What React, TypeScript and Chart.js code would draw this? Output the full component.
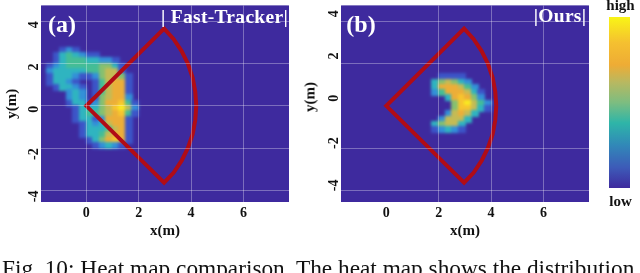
import React, { useEffect, useRef } from "react";
import { Chart, registerables } from "chart.js";

Chart.register(...registerables);

const FONT = "'Liberation Serif', serif";
const xTicks = [0, 2, 4, 6];
const yTicks = [-4, -2, 0, 2, 4];
const xRange = [-1.73, 7.74];
const yRange = [-4.54, 4.74];
const cellSize = 0.25;

const wedgeX = [4.2, 4.16, 4.06, 3.88, 3.64, 3.33, 2.97, 0, 2.97, 3.33, 3.64, 3.88, 4.06, 4.16, 4.2];
const wedgeY = [0, 0.68, 1.34, 1.99, 2.59, 3.16, 3.65, 0, -3.63, -3.16, -2.59, -1.99, -1.34, -0.68, 0];

// 0 = background ... 9 = hottest
const heatPalette = ["#3e2a9e", "#3c55c8", "#3390d8", "#2fb4c0", "#45bd95", "#86c070", "#c4bb55", "#ecae38", "#f7c52e", "#f9ea20"];

const heatOriginA = [-1.5, 2.75];
const heatRowsA = [
  "00121000000000",
  "01343211000000",
  "01344433221000",
  "12344444553100",
  "23333344566100",
  "13332112566510",
  "13321001467710",
  "01332101467710",
  "00023201467710",
  "00023201567720",
  "00013312577841",
  "00001333568962",
  "00001344567841",
  "00001331277710",
  "00000132367710",
  "00000133346710",
  "00000133467710",
  "00000013578710",
  "00000001232100",
];

const heatOriginB = [1.5, 1.5];
const heatRowsB = [
  "0011110000",
  "0356532000",
  "0377764200",
  "0247776310",
  "0003787520",
  "0000589642",
  "0000588631",
  "0002676300",
  "0026663000",
  "0356630000",
  "0123210000",
];

const colorbarStops = [0, 0.12, 0.25, 0.38, 0.5, 0.62, 0.72, 0.85, 1];
const colorbarColors = ["#3e2a9e", "#3d5bb8", "#3188b8", "#2eb5a8", "#7dbd80", "#b9b860", "#eeac35", "#f5c030", "#f9f516"];

const cellCache: Record<string, HTMLCanvasElement> = {};
function cellCanvas(v: number) {
  const color = heatPalette[v];
  if (!cellCache[color]) {
    const c = document.createElement("canvas");
    c.width = 8;
    c.height = 7;
    const g = c.getContext("2d")!;
    g.fillStyle = color;
    g.fillRect(0, 0, 8, 7);
    cellCache[color] = c;
  }
  return cellCache[color];
}

function heatPoints(rows: string[], origin: number[]) {
  const pts: { x: number; y: number; v: number }[] = [];
  rows.forEach((row, r) => {
    row.split("").forEach((ch, c) => {
      const v = Number(ch);
      if (v > 0) pts.push({ x: origin[0] + (c + 0.5) * cellSize, y: origin[1] - (r + 0.5) * cellSize, v });
    });
  });
  return pts;
}

const plotPlugin = {
  id: "plotLayers",
  beforeDatasetsDraw(chart: any) {
    const { ctx, chartArea: a } = chart;
    ctx.save();
    ctx.fillStyle = heatPalette[0];
    ctx.fillRect(a.left, a.top, a.right - a.left, a.bottom - a.top);
    ctx.restore();
  },
  afterDatasetDraw(chart: any, args: any) {
    if (args.index !== 1) return;
    const { ctx, chartArea: a } = chart;
    ctx.save();
    ctx.beginPath();
    ctx.rect(a.left, a.top, a.right - a.left, a.bottom - a.top);
    ctx.clip();
    ctx.filter = "blur(1.7px)";
    ctx.drawImage(ctx.canvas, 0, 0);
    ctx.restore();
  },
};

function heatConfig(rows: string[], origin: number[], opts: { labelOffset: number; hideZeroGrid: boolean; yTitle: boolean }) {
  const gridColor = (ctx: any) =>
    opts.hideZeroGrid && ctx.tick && ctx.tick.value === 0 ? "rgba(255,255,255,0)" : "rgba(255,255,255,0.32)";
  const tickFont = { family: FONT, size: 14, weight: "bold" as const };
  return {
    type: "scatter" as const,
    plugins: [plotPlugin],
    data: {
      datasets: [
        {
          label: "Sector",
          data: wedgeX.map((x, i) => ({ x, y: wedgeY[i] })),
          showLine: true,
          pointRadius: 0,
          borderColor: "#b00c16",
          borderWidth: 4,
          borderJoinStyle: "miter" as const,
          order: 0,
        },
        {
          label: "Heat",
          data: heatPoints(rows, origin),
          pointRadius: 4,
          pointStyle: (ctx: any) => cellCanvas(ctx.raw ? ctx.raw.v : 1),
          order: 1,
        },
      ],
    },
    options: {
      animation: false as const,
      responsive: false,
      events: [],
      layout: { padding: { top: 5.5, right: 31, bottom: 33, left: 0 } },
      plugins: { legend: { display: false }, tooltip: { enabled: false } },
      scales: {
        x: {
          type: "linear" as const,
          min: xRange[0],
          max: xRange[1],
          afterBuildTicks: (s: any) => { s.ticks = xTicks.map((value) => ({ value })); },
          afterFit: (s: any) => { s.height = 38; s.paddingLeft = 0; s.paddingRight = 0; },
          border: { display: false },
          grid: { color: gridColor, z: 1, drawTicks: false, lineWidth: 1 },
          ticks: { color: "#111", font: tickFont, padding: 3, maxRotation: 0, minRotation: 0 },
          title: { display: true, text: "x(m)", color: "#111", font: { family: FONT, size: 15, weight: "bold" as const }, padding: 0 },
        },
        y: {
          type: "linear" as const,
          min: yRange[0],
          max: yRange[1],
          afterBuildTicks: (s: any) => { s.ticks = yTicks.map((value) => ({ value })); },
          afterFit: (s: any) => { s.width = 41; s.paddingTop = 0; s.paddingBottom = 0; },
          border: { display: false },
          grid: { color: gridColor, z: 1, drawTicks: false, lineWidth: 1 },
          ticks: { color: "#111", font: tickFont, padding: 7, minRotation: 90, maxRotation: 90, labelOffset: opts.labelOffset },
          title: { display: opts.yTitle, text: "y(m)", color: "#111", font: { family: FONT, size: 15, weight: "bold" as const }, padding: { top: 3, bottom: 0 } },
        },
      },
    },
  };
}

const colorbarConfig = {
  type: "bar" as const,
  data: {
    labels: ["scale"],
    datasets: [
      {
        data: [[0, 1]],
        barPercentage: 1,
        categoryPercentage: 1,
        backgroundColor: (ctx: any) => {
          const a = ctx.chart.chartArea;
          if (!a) return colorbarColors[0];
          const g = ctx.chart.ctx.createLinearGradient(0, a.bottom, 0, a.top);
          colorbarStops.forEach((s, i) => g.addColorStop(s, colorbarColors[i]));
          return g;
        },
      },
    ],
  },
  options: {
    animation: false as const,
    responsive: false,
    events: [],
    layout: { padding: 0 },
    plugins: { legend: { display: false }, tooltip: { enabled: false } },
    scales: {
      x: { display: false },
      y: { display: false, min: 0, max: 1 },
    },
  },
};

function ChartCanvas({ config, style, width, height }: any) {
  const ref = useRef<HTMLCanvasElement>(null);
  useEffect(() => {
    const chart = new Chart(ref.current!, config);
    return () => chart.destroy();
  }, [config]);
  return <canvas ref={ref} width={width} height={height} style={{ position: "absolute", display: "block", ...style }} />;
}

const textBase: React.CSSProperties = { position: "absolute", fontFamily: FONT, whiteSpace: "nowrap", lineHeight: 1 };

function Label({ text, cx, cy, size, color = "#111", bold = true, rotate = false, spacing = 0 }: any) {
  return (
    <span
      style={{
        ...textBase,
        left: cx,
        top: cy,
        fontSize: size,
        color,
        fontWeight: bold ? "bold" : "normal",
        letterSpacing: spacing,
        transform: `translate(-50%, -50%)${rotate ? " rotate(-90deg)" : ""}`,
      }}
    >
      {text}
    </span>
  );
}

const configA = heatConfig(heatRowsA, heatOriginA, { labelOffset: 0, hideZeroGrid: false, yTitle: true });
const configB = heatConfig(heatRowsB, heatOriginB, { labelOffset: -11, hideZeroGrid: true, yTitle: false });

export default function App() {
  return (
    <div style={{ position: "absolute", left: 0, top: 0, width: 640, height: 273, overflow: "hidden", background: "#fff" }}>
      <ChartCanvas config={configA} width={320} height={273} style={{ left: 0, top: 0 }} />
      <ChartCanvas config={configB} width={320} height={273} style={{ left: 300, top: 0 }} />
      <ChartCanvas config={colorbarConfig} width={21} height={171} style={{ left: 609, top: 17 }} />
      <Label text="(a)" cx={62} cy={24} size={24} color="#fff" />
      <Label text="| Fast-Tracker|" cx={224.5} cy={17} size={19.5} color="#fff" spacing={0.3} />
      <Label text="(b)" cx={361} cy={24} size={24} color="#fff" />
      <Label text="|Ours|" cx={560} cy={16} size={19.5} color="#fff" spacing={0.3} />
      <Label text="y(m)" cx={310} cy={97} size={15} rotate />
      <Label text="high" cx={620.5} cy={5} size={15} />
      <Label text="low" cx={620.5} cy={201} size={15} />
      <span
        style={{
          ...textBase,
          left: 2,
          top: 255,
          fontSize: 23.3,
          lineHeight: "26px",
          color: "#111",
        }}
      >
        Fig. 10: Heat map comparison. The heat map shows the distribution
      </span>
    </div>
  );
}
